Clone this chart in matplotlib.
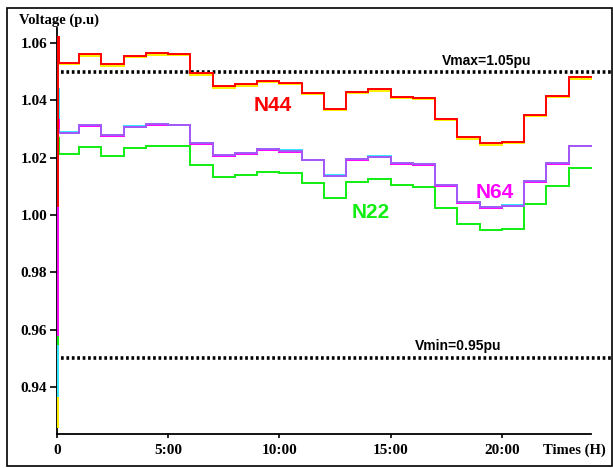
import matplotlib

matplotlib.use('Agg')
import matplotlib.pyplot as plt
import numpy as np
from matplotlib.patches import Rectangle

# hourly voltage profiles (p.u), one value per hour 0..23
hours = list(range(24))
n44_red = [1.0531, 1.0561, 1.0526, 1.0555, 1.0564, 1.0562, 1.0494, 1.0448, 1.0456, 1.0468, 1.0461, 1.0427,
           1.0370, 1.0430, 1.0439, 1.0412, 1.0409, 1.0335, 1.0271, 1.0250, 1.0256, 1.0349, 1.0415, 1.0480]
n44_yellow = [1.0526, 1.0556, 1.0521, 1.0550, 1.0559, 1.0557, 1.0489, 1.0443, 1.0451, 1.0463, 1.0456, 1.0422,
              1.0365, 1.0425, 1.0434, 1.0407, 1.0404, 1.0330, 1.0266, 1.0245, 1.0251, 1.0344, 1.0410, 1.0475]
n64_purple = [1.0287, 1.0313, 1.0279, 1.0308, 1.0316, 1.0314, 1.0250, 1.0209, 1.0215, 1.0230, 1.0224, 1.0192,
              1.0137, 1.0194, 1.0203, 1.0180, 1.0177, 1.0104, 1.0044, 1.0027, 1.0032, 1.0118, 1.0180, 1.0241]
n64_magenta = [1.0285, 1.0311, 1.0277, 1.0306, 1.0314, 1.0312, 1.0248, 1.0206, 1.0212, 1.0228, 1.0221, 1.0190,
               1.0135, 1.0192, 1.0201, 1.0178, 1.0175, 1.0102, 1.0041, 1.0025, 1.0030, 1.0116, 1.0178, 1.0239]
n64_cyan = [1.0288, 1.0314, 1.0280, 1.0309, 1.0317, 1.0315, 1.0251, 1.0210, 1.0216, 1.0231, 1.0225, 1.0193,
            1.0138, 1.0195, 1.0204, 1.0181, 1.0178, 1.0105, 1.0045, 1.0028, 1.0033, 1.0119, 1.0181, 1.0242]
n22_green = [1.0212, 1.0238, 1.0206, 1.0233, 1.0242, 1.0240, 1.0174, 1.0133, 1.0139, 1.0151, 1.0147, 1.0112,
             1.0058, 1.0116, 1.0125, 1.0104, 1.0098, 1.0025, 0.9967, 0.9947, 0.9951, 1.0037, 1.0102, 1.0164]

# start-up transient: initial value and overshoot right after t=0
t_start = 0.04
t_settle = 0.08
start_vals = {'yellow': 0.926, 'cyan': 0.937, 'green': 0.955, 'magenta': 0.958, 'purple': 1.010, 'red': 1.003}
peak_vals = {'yellow': 1.061, 'cyan': 1.044, 'green': 1.027, 'magenta': 1.033, 'purple': 1.030, 'red': 1.062}

vmax = 1.05
vmin = 0.95
xtick_pos = [0, 5, 10, 15, 20]
xtick_lab = ['0', '5:00', '10:00', '15:00', '20:00']
ytick_pos = [0.94, 0.96, 0.98, 1.00, 1.02, 1.04, 1.06]

series = [
    ('yellow', '#ffee00', n44_yellow),
    ('cyan', '#33e5ff', n64_cyan),
    ('green', '#11ee11', n22_green),
    ('magenta', '#ff00ff', n64_magenta),
    ('purple', '#a05cf8', n64_purple),
    ('red', '#ff0000', n44_red),
]

W, H = 613, 468
fig = plt.figure(figsize=(W / 100, H / 100), dpi=100)
ax = fig.add_axes([57 / W, 1 - 434 / H, 556 / W, (434 - 28) / H])

for name, col, vals in series:
    xs = [t_start, t_start, t_settle] + hours[1:] + [24]
    ys = [start_vals[name], peak_vals[name], vals[0]] + vals[1:] + [vals[-1]]
    ax.plot(xs, ys, drawstyle='steps-post', color=col, lw=1.4, solid_joinstyle='miter', zorder=3)

for v in [vmax, vmin]:
    ax.plot([0.2, 25], [v, v], color='black', lw=2.6, linestyle=(0, (0.75, 0.75)), clip_on=False)

tfont = dict(family='Liberation Sans', weight='bold')
ax.text(19.3, 1.0537, 'Vmax=1.05pu', fontsize=10, ha='center', va='center', **tfont)
ax.text(18.06, 0.9543, 'Vmin=0.95pu', fontsize=10, ha='center', va='center', **tfont)
ax.text(9.72, 1.0380, 'N44', fontsize=15, color='#ff0000', ha='center', va='center', **tfont)
ax.text(14.1, 1.0008, 'N22', fontsize=15, color='#11ee11', ha='center', va='center', **tfont)
ax.text(19.68, 1.0079, 'N64', fontsize=15, color='#ff00ff', ha='center', va='center', **tfont)

ax.set_xlim(0, 25)
ax.set_ylim(0.9236, 1.0652)
ax.spines['top'].set_visible(False)
ax.spines['right'].set_visible(False)
ax.spines['bottom'].set_bounds(0, 24)
ax.spines['left'].set_linewidth(1.3)
ax.spines['bottom'].set_linewidth(1.3)

sfont = dict(family='Liberation Serif', weight='bold')
ax.set_xticks(xtick_pos)
ax.set_xticklabels(xtick_lab, fontsize=11, **sfont)
ax.set_yticks(ytick_pos)
ax.set_yticklabels(['%.2f' % v for v in ytick_pos], fontsize=11, **sfont)
ax.tick_params(axis='y', direction='out', length=5, width=1.2, pad=2)
ax.tick_params(axis='x', direction='out', length=3, width=1.2, pad=4)

fig.text(19 / W, 1 - 20 / H, 'Voltage (p.u)', fontsize=10.5, ha='left', va='center', **sfont)
fig.text(606 / W, 1 - 450 / H, 'Times (H)', fontsize=10.5, ha='right', va='center', **sfont)

fig.patches.append(Rectangle((7 / W, 2 / H), (612 - 7) / W, (466 - 8) / H, transform=fig.transFigure,
                             fill=False, edgecolor='black', lw=1.2))

plt.savefig('out.png', dpi=100)
plt.close()
